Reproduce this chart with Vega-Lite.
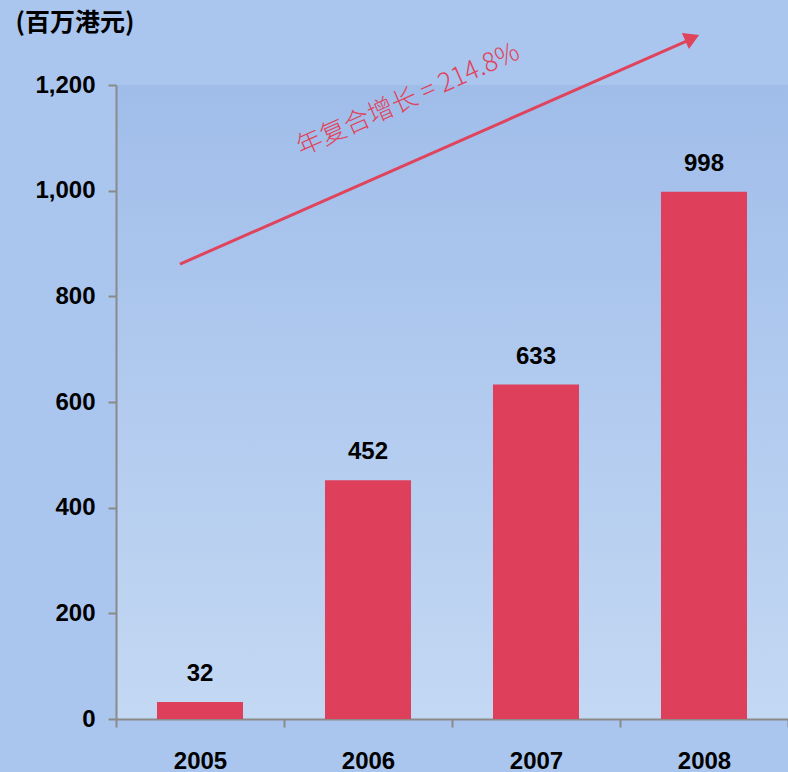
{
  "$schema": "https://vega.github.io/schema/vega-lite/v6.json",
  "autosize": {"type": "none"},
  "width": 672,
  "height": 634,
  "padding": {"left": 116, "top": 85, "right": 0, "bottom": 53},
  "background": "#aac5ee",
  "config": {
    "view": {
      "stroke": null,
      "fill": {"gradient": "linear", "x1": 0, "y1": 0, "x2": 0, "y2": 1, "stops": [{"offset": 0, "color": "#a0bdea"}, {"offset": 1, "color": "#c3d8f3"}]}
    },
    "axis": {"grid": false, "domainColor": "#8a8a8a", "domainWidth": 2, "tickColor": "#8a8a8a", "tickWidth": 2, "tickSize": 8, "labelFont": "Liberation Sans", "labelFontWeight": "bold", "labelFontSize": 24, "labelColor": "#000000"},
    "axisY": {"format": ",.0f", "tickCount": 7, "labelPadding": 13, "titleAngle": 0, "titleAlign": "left", "titleBaseline": "middle", "titleX": -101, "titleY": -63, "titleFont": "Noto Sans CJK SC", "titleFontWeight": "bold", "titleFontSize": 25, "titleColor": "#000000"}
  },
  "datasets": {
    "bars": [
      {"year": "2005", "value": 32},
      {"year": "2006", "value": 452},
      {"year": "2007", "value": 633},
      {"year": "2008", "value": 998}
    ],
    "arrow": [
      {"x": 0.381, "y": 861, "x2": 3.43, "y2": 1288}
    ],
    "head": [
      {"x": 3.43, "y": 1289}
    ],
    "note": [
      {"x": 1.738, "y": 1172, "label": "年复合增长 = 214.8%"}
    ]
  },
  "resolve": {"scale": {"x": "independent"}, "axis": {"x": "independent"}},
  "layer": [
    {
      "layer": [
        {
          "data": {"name": "bars"},
          "mark": {"type": "bar", "color": "#de3f5b", "width": {"band": 0.512}},
          "encoding": {
            "x": {"field": "year", "type": "ordinal", "scale": {"paddingInner": 0, "paddingOuter": 0}, "axis": {"title": null, "labelAngle": 0, "tickBand": "extent", "labelPadding": 22}},
            "y": {"field": "value", "type": "quantitative", "scale": {"domain": [0, 1200], "nice": false}, "title": "(百万港元)"}
          }
        },
        {
          "data": {"name": "bars"},
          "mark": {"type": "text", "font": "Liberation Sans", "fontWeight": "bold", "fontSize": 24, "color": "#000000", "baseline": "middle", "dy": -28},
          "encoding": {
            "x": {"field": "year", "type": "ordinal"},
            "y": {"field": "value", "type": "quantitative"},
            "text": {"field": "value", "type": "quantitative"}
          }
        }
      ]
    },
    {
      "layer": [
        {
          "data": {"name": "arrow"},
          "mark": {"type": "rule", "color": "#e0435c", "strokeWidth": 3},
          "encoding": {
            "x": {"field": "x", "type": "quantitative", "scale": {"domain": [0, 4], "nice": false}, "axis": null},
            "y": {"field": "y", "type": "quantitative"},
            "x2": {"field": "x2"},
            "y2": {"field": "y2"}
          }
        },
        {
          "data": {"name": "head"},
          "mark": {"type": "point", "shape": "triangle-right", "filled": true, "color": "#e0435c", "opacity": 1, "size": 300, "angle": -24},
          "encoding": {
            "x": {"field": "x", "type": "quantitative"},
            "y": {"field": "y", "type": "quantitative"}
          }
        },
        {
          "data": {"name": "note"},
          "mark": {"type": "text", "font": "Noto Sans CJK SC", "fontSize": 26, "fontWeight": 300, "color": "#e0435c", "angle": -24, "align": "center", "baseline": "middle"},
          "encoding": {
            "x": {"field": "x", "type": "quantitative"},
            "y": {"field": "y", "type": "quantitative"},
            "text": {"field": "label"}
          }
        }
      ]
    }
  ]
}
